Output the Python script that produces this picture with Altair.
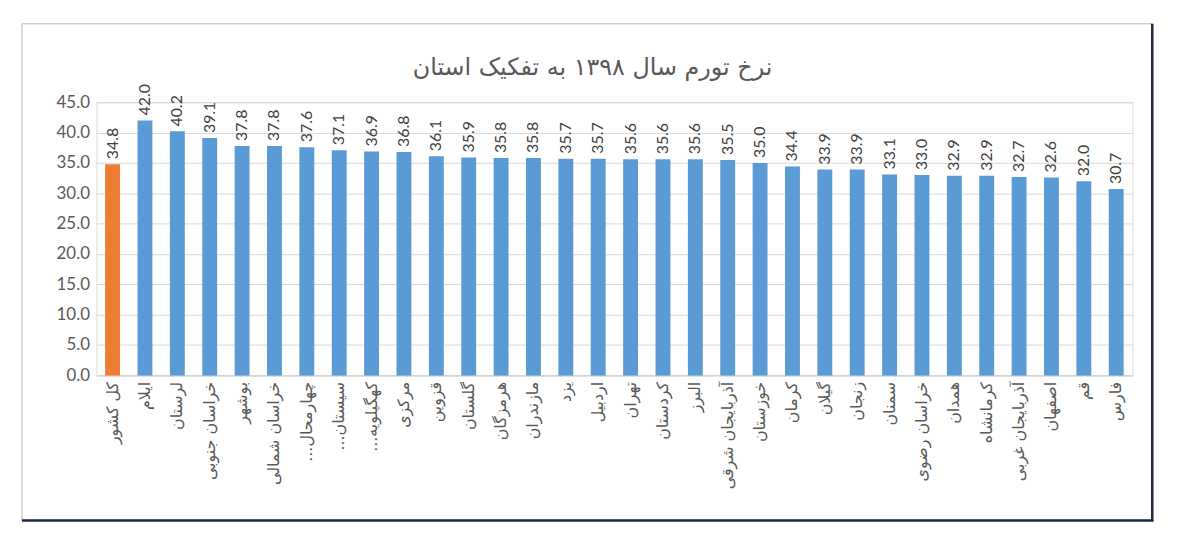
import altair as alt
import pandas as pd

RLM = "\u200f"
provinces = [
    "کل کشور", "ایلام", "لرستان", "خراسان جنوبی", "بوشهر", "خراسان شمالی",
    "چهارمحال..." + RLM, "سیستان..." + RLM, "کهگیلویه..." + RLM, "مرکزی", "قزوین", "گلستان",
    "هرمزگان", "مازندران", "یزد", "اردبیل", "تهران", "کردستان", "البرز",
    "آذربایجان شرقی", "خوزستان", "کرمان", "گیلان", "زنجان", "سمنان",
    "خراسان رضوی", "همدان", "کرمانشاه", "آذربایجان غربی", "اصفهان", "قم", "فارس",
]
inflation = [
    34.8, 42.0, 40.2, 39.1, 37.8, 37.8, 37.6, 37.1, 36.9, 36.8, 36.1, 35.9,
    35.8, 35.8, 35.7, 35.7, 35.6, 35.6, 35.6, 35.5, 35.0, 34.4, 33.9, 33.9,
    33.1, 33.0, 32.9, 32.9, 32.7, 32.6, 32.0, 30.7,
]
y_ticks = [0, 5, 10, 15, 20, 25, 30, 35, 40, 45]
title_text = "نرخ تورم سال ۱۳۹۸ به تفکیک استان"
national = "کل کشور"

df = pd.DataFrame({"province": provinces, "rate": inflation})

W, H = 1043, 275

x_enc = alt.X(
    "province:N",
    sort=provinces,
    title=None,
    scale=alt.Scale(paddingInner=0.54, paddingOuter=0.27),
    axis=alt.Axis(
        labelAngle=270,
        labelFontSize=16,
        labelFont="DejaVu Sans",
        labelColor="#595959",
        labelPadding=6,
        labelLimit=300,
        ticks=False,
        domainColor="#d0d0d0",
        domainWidth=1,
        grid=False,
    ),
)
y_enc = alt.Y(
    "rate:Q",
    title=None,
    scale=alt.Scale(domain=[0, 45], nice=False),
    axis=alt.Axis(
        values=y_ticks,
        format=".1f",
        labelFontSize=17,
        labelFont="Lato",
        labelColor="#595959",
        labelPadding=7,
        ticks=False,
        domain=False,
        gridColor="#d9d9d9",
        gridWidth=1,
    ),
)

base = alt.Chart(df).encode(x=x_enc, y=y_enc)

bars = base.mark_bar().encode(
    color=alt.condition(
        alt.datum.province == national, alt.value("#ED7D31"), alt.value("#5B9BD5")
    )
)
labels = base.mark_text(
    angle=270, align="left", baseline="middle", dx=5, fontSize=16,
    font="Lato", color="#404040",
).encode(text=alt.Text("rate:Q", format=".1f"))

frame_df = pd.DataFrame({"k": [0]})
fr = alt.Chart(frame_df)
L, R, T, B = -75, 1063, -79, 421
gray_top = fr.mark_rule(color="#d0d0d0", strokeWidth=1.5).encode(
    x=alt.value(L), x2=alt.value(R), y=alt.value(T))
gray_left = fr.mark_rule(color="#d0d0d0", strokeWidth=1.5).encode(
    x=alt.value(L), y=alt.value(T), y2=alt.value(B))
dark_right = fr.mark_rule(color="#1c2747", strokeWidth=2.5).encode(
    x=alt.value(R), y=alt.value(T), y2=alt.value(B + 1))
dark_bottom = fr.mark_rule(color="#1c2747", strokeWidth=2.5).encode(
    x=alt.value(L), x2=alt.value(R + 1), y=alt.value(B))

title_mark = fr.mark_text(
    fontSize=24, font="DejaVu Sans", color="#595959", align="center",
    baseline="middle",
).encode(x=alt.value(W / 2 - 22), y=alt.value(-34), text=alt.value(title_text))

chart = alt.layer(
    gray_top, gray_left, dark_right, dark_bottom, title_mark, bars, labels
).properties(
    width=W,
    height=H,
    autosize="none",
    padding={"left": 89, "top": 93, "right": 60, "bottom": 182},
).configure_view(stroke=None).configure(background="white")

chart.save("out.html", embed_options={"renderer": "svg", "actions": False})
